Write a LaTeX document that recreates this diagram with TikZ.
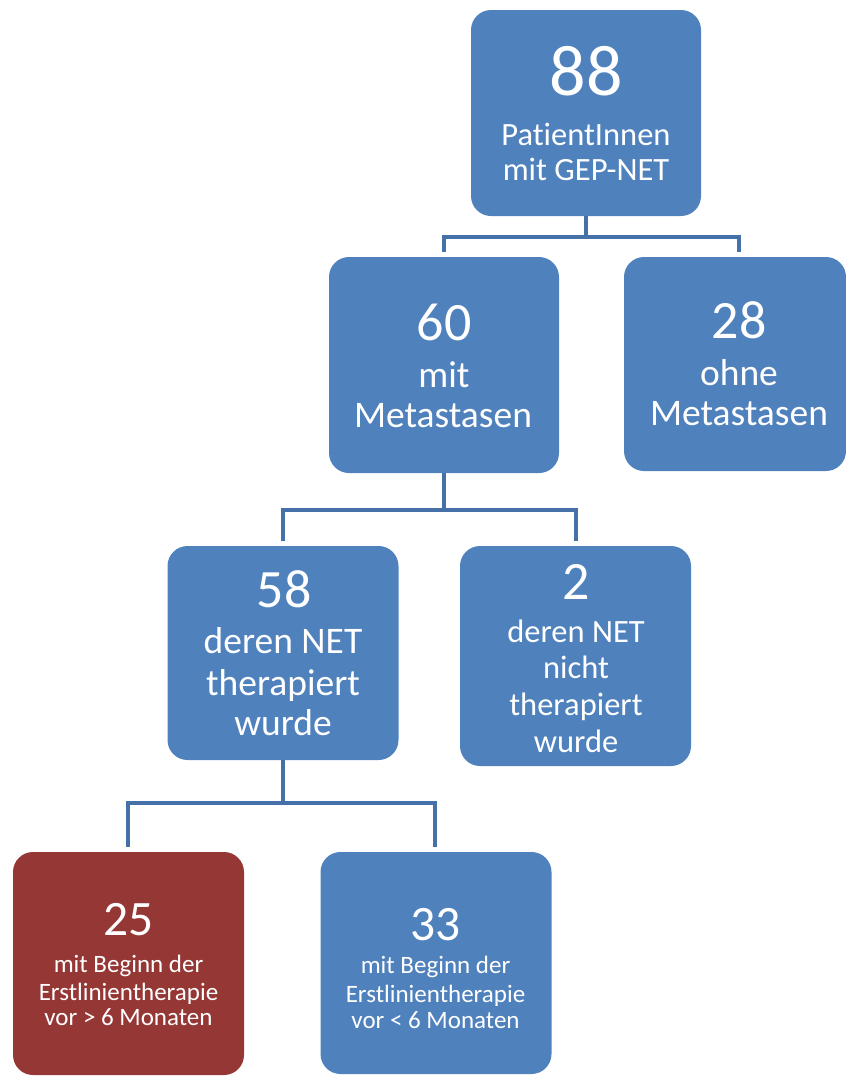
\documentclass[tikz,border=0pt]{standalone}
\usepackage{fontspec}
\setmainfont{Carlito}[Ligatures=NoCommon]
\definecolor{boxblue}{HTML}{4F81BD}
\definecolor{boxred}{HTML}{953735}
\definecolor{connblue}{HTML}{4571A8}
\begin{document}
\begin{tikzpicture}[x=1pt,y=-1pt,
  box/.style={fill=boxblue, draw=none, rounded corners=20pt, inner sep=0pt, outer sep=0pt},
  redbox/.style={box, fill=boxred},
  conn/.style={draw=connblue, line width=4pt, line join=miter},
  lbl/.style={text=white, anchor=base, inner sep=0pt, outer sep=0pt},
  big/.style={lbl, font=\fontsize{72}{72}\selectfont},
  num/.style={lbl, font=\fontsize{54}{54}\selectfont},
  numsm/.style={lbl, font=\fontsize{49.5}{49.5}\selectfont},
  txt/.style={lbl, font=\fontsize{32.5}{36}\selectfont},
  txtl/.style={lbl, font=\fontsize{37.5}{42}\selectfont},
  txts/.style={lbl, font=\fontsize{25}{28}\selectfont}
]
\useasboundingbox (0,0) rectangle (846,1077);

% boxes
\node[box, minimum width=230pt, minimum height=206pt] (b88) at (586,113) {};
\node[box, minimum width=230pt, minimum height=216pt] (b60) at (444,365) {};
\node[box, minimum width=222pt, minimum height=214pt] (b28) at (735,364) {};
\node[box, minimum width=231pt, minimum height=214pt] (b58) at (283,653) {};
\node[box, minimum width=231pt, minimum height=220pt] (b2) at (575.5,656) {};
\node[redbox, minimum width=231pt, minimum height=223pt] (b25) at (128.5,963.5) {};
\node[box, minimum width=231pt, minimum height=222pt] (b33) at (436,963) {};

% texts
\node[big] (t88) at (586,95) {88};
\node[txt] (t88a) at (586,145) {PatientInnen};
\node[txt] (t88b) at (586,180) {mit GEP-NET};

\node[num] (t60) at (444,340) {60};
\node[txtl] (t60a) at (444,387) {mit};
\node[txtl] (t60b) at (443,427) {Metastasen};

\node[num] (t28) at (739,338) {28};
\node[txtl] (t28a) at (739,385) {ohne};
\node[txtl] (t28b) at (739,425) {Metastasen};

\node[num] (t58) at (284,607) {58};
\node[txtl] (t58a) at (283,653) {deren NET};
\node[txtl] (t58b) at (283,695) {therapiert};
\node[txtl] (t58c) at (283,735) {wurde};

\node[num] (t2) at (576,599) {2};
\node[txt] (t2a) at (576,642) {deren NET};
\node[txt] (t2b) at (576,678) {nicht};
\node[txt] (t2c) at (576,715) {therapiert};
\node[txt] (t2d) at (576,752) {wurde};

\node[numsm] (t25) at (128.5,935) {25};
\node[txts] (t25a) at (128.5,972) {mit Beginn der};
\node[txts] (t25b) at (128.5,1000) {Erstlinientherapie};
\node[txts] (t25c) at (128.5,1025) {vor > 6 Monaten};

\node[numsm] (t33) at (435.5,940) {33};
\node[txts] (t33a) at (435.5,973) {mit Beginn der};
\node[txts] (t33b) at (435.5,1002) {Erstlinientherapie};
\node[txts] (t33c) at (435.5,1028) {vor < 6 Monaten};

% connectors
\coordinate (j1) at (586,237);
\coordinate (j2) at (444,510);
\coordinate (j3) at (283,803);
\draw[conn] (b88.south) -- (j1);
\draw[conn] (j1) -| ([yshift=5pt]b60.north);
\draw[conn] (j1) -| ([xshift=4pt,yshift=5pt]b28.north);
\draw[conn] (b60.south) -- (j2);
\draw[conn] (j2) -| ([yshift=5pt]b58.north);
\draw[conn] (j2) -| ([yshift=5pt]b2.north);
\draw[conn] (b58.south) -- (j3);
\draw[conn] (j3) -| ([xshift=-0.5pt,yshift=5pt]b25.north);
\draw[conn] (j3) -| ([xshift=-1pt,yshift=5pt]b33.north);
\end{tikzpicture}
\end{document}
